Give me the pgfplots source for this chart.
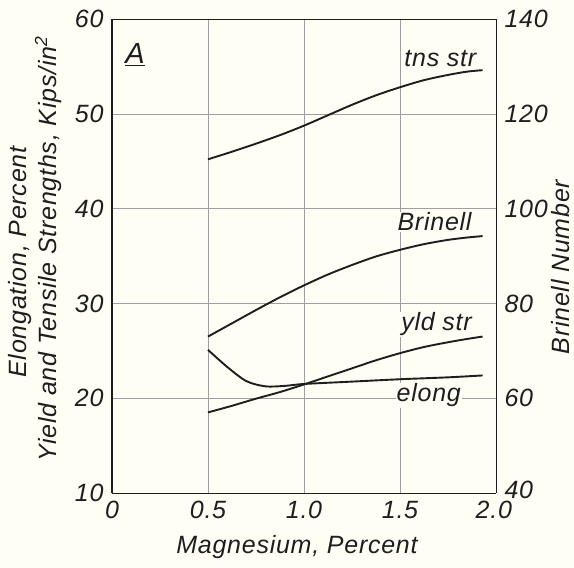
\documentclass[border=0pt]{standalone}
\usepackage{fontspec}
\setmainfont{Liberation Sans}[LetterSpace=3]
\usepackage{pgfplots}
\pgfplotsset{compat=1.18}
\definecolor{bg}{RGB}{254,254,245}
\definecolor{ink}{RGB}{30,30,30}
\newcommand{\lbl}{\itshape\fontsize{25}{28}\selectfont}
\begin{document}
\begin{tikzpicture}[x=1pt,y=1pt]
\fill[bg] (-112,-75) rectangle (462,493);
\begin{axis}[at={(0,0)}, anchor=south west, scale only axis,
  width=384pt, height=474pt,
  xmin=0, xmax=2, ymin=10, ymax=60,
  xtick={0,0.5,1,1.5,2}, xticklabels={0,0.5,1.0,1.5,\makebox[32pt][r]{2.0}},
  ytick={10,20,30,40,50,60},
  grid=major, major grid style={draw=gray!75, line width=0.5pt},
  major tick length=0pt,
  axis line style={draw=ink, line width=0.9pt},
  /pgf/number format/assume math mode=true,
  ticklabel style={font=\lbl, text=ink},
  xticklabel style={yshift=-5pt},
  yticklabel style={xshift=-5pt},
  axis y line*=left,
  axis x line*=bottom,
  clip=false]
\node[fill=bg, inner sep=1pt, text=ink, font=\lbl] at (axis cs:1.71,55.8) {tns str};
\node[fill=bg, inner sep=1pt, text=ink, font=\lbl] at (axis cs:1.68,38.6) {Brinell};
\node[fill=bg, inner sep=1pt, text=ink, font=\lbl] at (axis cs:1.69,27.8) {yld str};
\node[fill=bg, inner sep=1pt, text=ink, font=\lbl] at (axis cs:1.65,20.3) {elong};
\node[text=ink, font=\itshape\fontsize{29}{31}\selectfont] at (axis cs:0.12,56.2) {\underline{A}};
\draw[ink, line width=0.9pt] (rel axis cs:0,1) -- (rel axis cs:1,1) -- (rel axis cs:1,0);
\draw[ink, line width=1.8pt] (rel axis cs:0,0) -- (rel axis cs:0,1);
% tensile strength
\addplot[ink, line width=1.9pt, smooth] coordinates {
 (0.5,45.2) (0.625,46.0) (0.75,46.85) (0.875,47.75) (1.0,48.75) (1.125,49.85) (1.25,50.95)
 (1.375,51.95) (1.5,52.8) (1.625,53.55) (1.75,54.1) (1.85,54.45) (1.93,54.6)};
% yield strength
\addplot[ink, line width=1.9pt, smooth] coordinates {
 (0.5,18.5) (0.625,19.2) (0.75,19.95) (0.875,20.65) (1.0,21.45) (1.125,22.3) (1.25,23.15)
 (1.375,24.0) (1.5,24.75) (1.625,25.4) (1.75,25.9) (1.85,26.25) (1.93,26.5)};
% elongation
\addplot[ink, line width=1.9pt, smooth] coordinates {
 (0.5,25.1) (0.6,23.3) (0.7,21.8) (0.8,21.25) (0.9,21.3) (1.0,21.5) (1.25,21.75) (1.5,22.0) (1.75,22.2) (1.93,22.4)};
\end{axis}
\begin{axis}[at={(0,0)}, anchor=south west, scale only axis,
  width=384pt, height=474pt,
  xmin=0, xmax=2, ymin=40, ymax=140,
  ytick={40,60,80,100,120,140},
  yticklabels={\raisebox{6pt}{40},60,80,100,120,140},
  axis x line=none, axis y line*=right,
  axis line style={draw=none},
  major tick length=0pt,
  /pgf/number format/assume math mode=true,
  ticklabel style={font=\lbl, text=ink},
  yticklabel style={xshift=5pt}]
\addplot[ink, line width=1.9pt, smooth] coordinates {
 (0.5,73.0) (0.625,75.8) (0.75,78.6) (0.875,81.3) (1.0,83.8) (1.125,86.1) (1.25,88.1)
 (1.375,89.9) (1.5,91.3) (1.625,92.5) (1.75,93.4) (1.85,93.9) (1.93,94.2)};
\end{axis}
\node[rotate=90, text=ink, font=\lbl] at (20-112, 493-262) {Elongation, Percent};
\node[rotate=90, text=ink, font=\lbl] at (48-112, 493-249) {Yield and Tensile Strengths, Kips/in\textsuperscript{2}};
\node[rotate=90, text=ink, font=\lbl] at (561-112, 493-267) {Brinell Number};
\node[text=ink, font=\lbl] at (297-112, 493-547) {Magnesium, Percent};
\end{tikzpicture}
\end{document}
